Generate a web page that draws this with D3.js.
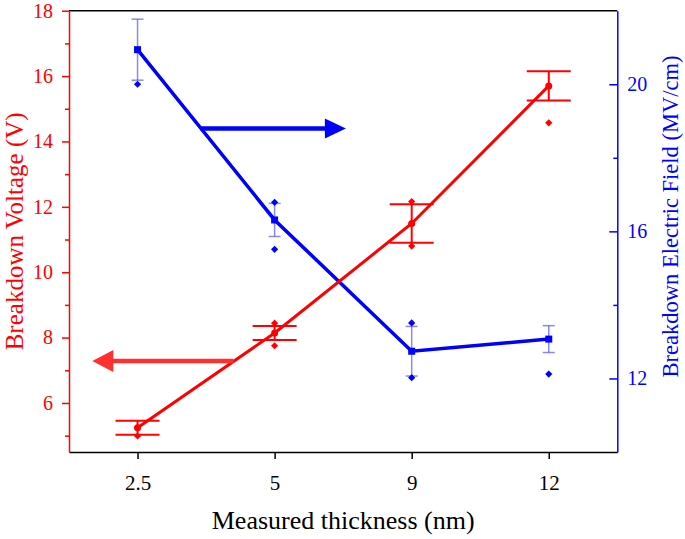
<!DOCTYPE html>
<html><head><meta charset="utf-8">
<script src="https://cdn.jsdelivr.net/npm/d3@7"></script>
<style>body{margin:0;background:#fff}svg{display:block}svg text{font-family:"Liberation Serif","Times New Roman",Times,serif}</style>
</head><body><svg id="c" width="685" height="539"></svg>
<script>
// ---- data ----
const categories = ["2.5", "5", "9", "12"];
const voltageMean = [5.24, 8.14, 11.49, 15.70];
const voltageErr = [0.215, 0.215, 0.59, 0.45];
const voltagePoints = [[4.99], [8.44, 7.75], [12.16, 10.80], [14.57]];
const fieldMean = [20.94, 16.31, 12.74, 13.07];
const fieldErr = [0.83, 0.45, 0.675, 0.365];
const fieldPoints = [[20.0], [16.79, 15.51], [13.51, 12.02], [12.12]];
const leftTicks = [6, 8, 10, 12, 14, 16, 18];
const leftMinorTicks = [5, 7, 9, 11, 13, 15, 17];
const rightTicks = [12, 16, 20];
const rightMinorTicks = [14, 18];
// arrows: [xIndexStart, xIndexEnd, value]
const fieldArrow = [0.46, 1.52, 18.8];
const voltageArrow = [0.70, -0.33, 7.28];

// ---- layout ----
const L = 69, R = 617.3, T = 10.7, B = 452;
const svg = d3.select("#c");
const font = "'Liberation Serif', 'Times New Roman', Times, serif";
const RED = "#ff0000", BLUE = "#0000ff";

const x = d3.scaleLinear().domain([-0.5, 3.5]).range([L, R]);
const yL = d3.scaleLinear().domain([4.5, 18]).range([B, T]);
const yR = d3.scaleLinear().domain([10, 22]).range([B, T]);

// top border
svg.append("line").attr("x1", L).attr("x2", R).attr("y1", T).attr("y2", T)
  .attr("stroke", "#000").attr("stroke-width", 1.5);

// bottom axis
const gx = svg.append("g").attr("transform", `translate(0,${B})`)
  .call(d3.axisBottom(x).tickValues([0, 1, 2, 3]).tickFormat(i => categories[i])
    .tickSize(7).tickSizeOuter(0).tickPadding(16));
gx.select(".domain").attr("stroke", "#000").attr("stroke-width", 1.5);
gx.selectAll(".tick line").attr("stroke", "#000").attr("stroke-width", 1.5);
gx.selectAll("text").attr("font-family", font).attr("font-size", 21).attr("fill", "#000");

// left axis
const gl = svg.append("g").attr("transform", `translate(${L},0)`)
  .call(d3.axisLeft(yL).tickValues(leftTicks).tickSize(7).tickSizeOuter(0).tickPadding(9));
gl.select(".domain").attr("stroke", RED).attr("stroke-width", 1.5);
gl.selectAll(".tick line").attr("stroke", RED).attr("stroke-width", 1.5);
gl.selectAll("text").attr("font-family", font).attr("font-size", 20).attr("fill", RED);
const glm = svg.append("g").attr("transform", `translate(${L},0)`)
  .call(d3.axisLeft(yL).tickValues(leftMinorTicks).tickSize(4).tickSizeOuter(0).tickFormat(""));
glm.select(".domain").remove();
glm.selectAll(".tick line").attr("stroke", RED).attr("stroke-width", 1.5);

// right axis (ticks inward)
const gr = svg.append("g").attr("transform", `translate(${R},0)`)
  .call(d3.axisRight(yR).tickValues(rightTicks).tickSize(-8).tickSizeOuter(0).tickPadding(10));
gr.select(".domain").attr("stroke", BLUE).attr("stroke-width", 1.5);
gr.selectAll(".tick line").attr("stroke", BLUE).attr("stroke-width", 1.5);
gr.selectAll("text").attr("font-family", font).attr("font-size", 20).attr("fill", BLUE);
const grm = svg.append("g").attr("transform", `translate(${R},0)`)
  .call(d3.axisRight(yR).tickValues(rightMinorTicks).tickSize(-4).tickSizeOuter(0).tickFormat(""));
grm.select(".domain").remove();
grm.selectAll(".tick line").attr("stroke", BLUE).attr("stroke-width", 1.5);

// titles
svg.append("text").attr("x", (L + R) / 2).attr("y", 529).attr("text-anchor", "middle")
  .attr("font-family", font).attr("font-size", 26).attr("fill", "#000")
  .text("Measured thickness (nm)");
svg.append("text").attr("transform", `translate(23,${(T + B) / 2}) rotate(-90)`)
  .attr("text-anchor", "middle").attr("font-family", font).attr("font-size", 25).attr("fill", RED)
  .text("Breakdown Voltage (V)");
svg.append("text").attr("transform", `translate(678,216.5) rotate(-90)`)
  .attr("text-anchor", "middle").attr("font-family", font).attr("font-size", 22.5).attr("fill", BLUE)
  .text("Breakdown Electric Field (MV/cm)");

const idx = d3.range(categories.length);
const diamond = d3.symbol(d3.symbolSquare, 26);

// ---- blue series (field) ----
const gB = svg.append("g");
idx.forEach(i => {
  const cx = x(i), y1 = yR(fieldMean[i] - fieldErr[i]), y2 = yR(fieldMean[i] + fieldErr[i]);
  const s = gB.append("g").attr("stroke", "rgba(60,60,230,0.6)").attr("stroke-width", 1.5);
  s.append("line").attr("x1", cx).attr("x2", cx).attr("y1", y1).attr("y2", y2);
  s.append("line").attr("x1", cx - 6).attr("x2", cx + 6).attr("y1", y1).attr("y2", y1);
  s.append("line").attr("x1", cx - 6).attr("x2", cx + 6).attr("y1", y2).attr("y2", y2);
});
gB.append("path").datum(idx)
  .attr("d", d3.line().x(i => x(i)).y(i => yR(fieldMean[i])))
  .attr("fill", "none").attr("stroke", BLUE).attr("stroke-width", 3.5);
idx.forEach(i => {
  gB.append("rect").attr("x", x(i) - 3.5).attr("y", yR(fieldMean[i]) - 3.5)
    .attr("width", 7).attr("height", 7).attr("fill", BLUE);
  fieldPoints[i].forEach(v => {
    gB.append("path").attr("d", diamond)
      .attr("transform", `translate(${x(i)},${yR(v)}) rotate(45)`).attr("fill", BLUE);
  });
});

// ---- red series (voltage) ----
const gRd = svg.append("g");
idx.forEach(i => {
  const cx = x(i), y1 = yL(voltageMean[i] - voltageErr[i]), y2 = yL(voltageMean[i] + voltageErr[i]);
  const s = gRd.append("g").attr("stroke", RED).attr("stroke-width", 2);
  s.append("line").attr("x1", cx).attr("x2", cx).attr("y1", y1).attr("y2", y2);
  s.append("line").attr("x1", cx - 22).attr("x2", cx + 22).attr("y1", y1).attr("y2", y1);
  s.append("line").attr("x1", cx - 22).attr("x2", cx + 22).attr("y1", y2).attr("y2", y2);
});
gRd.append("path").datum(idx)
  .attr("d", d3.line().x(i => x(i)).y(i => yL(voltageMean[i])))
  .attr("fill", "none").attr("stroke", RED).attr("stroke-width", 3);
idx.forEach(i => {
  gRd.append("circle").attr("cx", x(i)).attr("cy", yL(voltageMean[i])).attr("r", 3.5).attr("fill", RED);
  voltagePoints[i].forEach(v => {
    gRd.append("path").attr("d", diamond)
      .attr("transform", `translate(${x(i)},${yL(v)}) rotate(45)`).attr("fill", RED);
  });
});

// ---- arrows ----
function arrow(xs, xe, y, color, headHalf) {
  const dir = Math.sign(xe - xs), headLen = 21;
  svg.append("line").attr("x1", xs).attr("x2", xe - dir * headLen + dir * 2)
    .attr("y1", y).attr("y2", y).attr("stroke", color).attr("stroke-width", 4.5);
  svg.append("path")
    .attr("d", `M${xe},${y} L${xe - dir * headLen},${y - headHalf} L${xe - dir * headLen},${y + headHalf} Z`)
    .attr("fill", color);
}
arrow(x(fieldArrow[0]), x(fieldArrow[1]), yR(fieldArrow[2]), BLUE, 10);
arrow(x(voltageArrow[0]), x(voltageArrow[1]), yL(voltageArrow[2]), "#ff3030", 11);
</script>
</body></html>
